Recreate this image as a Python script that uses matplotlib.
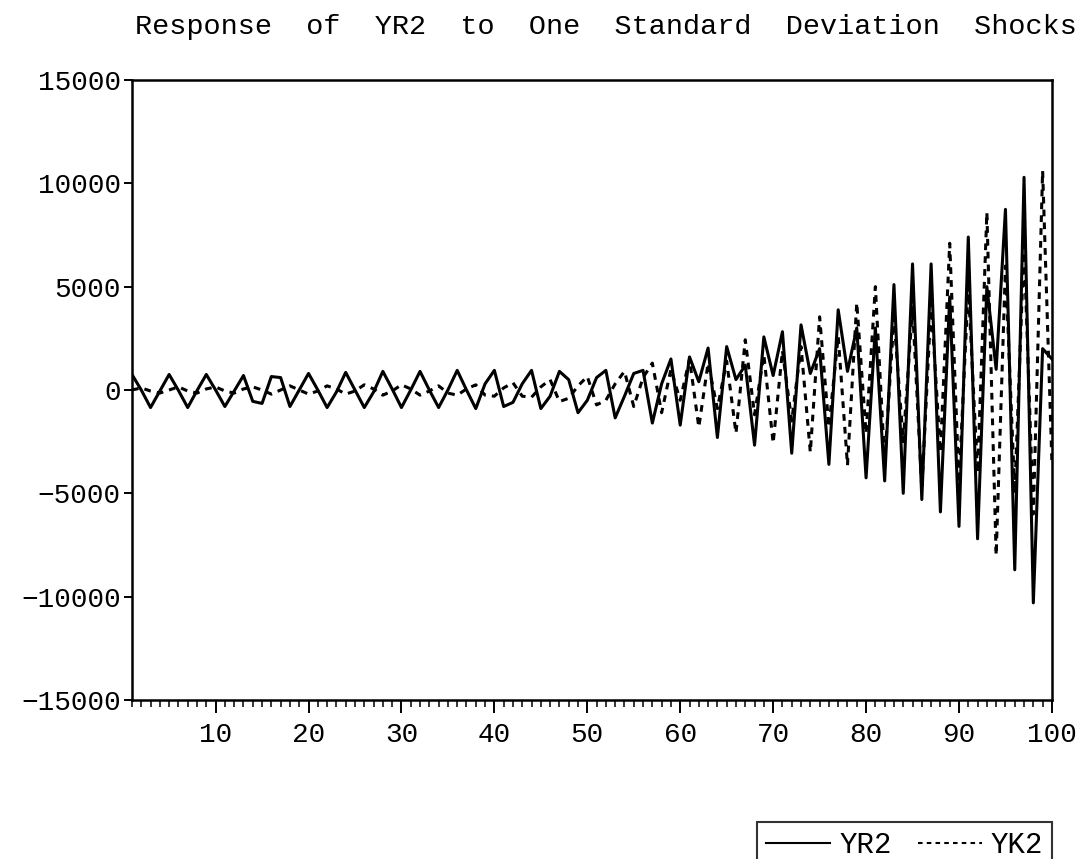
import matplotlib
matplotlib.use("Agg")
import matplotlib.pyplot as plt

plt.rcParams['font.family'] = ['Liberation Mono', 'DejaVu Sans Mono']

# impulse response horizon
periods = list(range(1, 101))

# response of YR2 (solid line)
yr2 = [750, 0, -850, -50, 750, -20, -850, -30, 750, 0,
       -800, -50, 700, -550, -650, 650, 600, -800, 0, 800,
       0, -850, -100, 850, 0, -850, -100, 900, 50, -850,
       0, 900, 0, -850, 0, 950, 0, -900, 300, 950,
       -800, -600, 300, 950, -900, -300, 900, 500, -1100, -500,
       600, 950, -1350, -300, 800, 950, -1600, 300, 1500, -1700,
       1600, 400, 2030, -2300, 2100, 500, 1200, -2670, 2570, 700,
       2820, -3060, 3150, 800, 2000, -3600, 3880, 900, 3000, -4250,
       3000, -4400, 5100, -5000, 6100, -5300, 6100, -5900, 4500, -6600,
       7400, -7200, 5000, 1000, 8740, -8700, 10290, -10300, 2000, 1500]

# response of YK2 (dashed line)
yk2 = [0, 100, -50, -150, 0, 150, -50, -150, 50, 150,
       -50, -150, 50, 150, 0, -200, 0, 200, 0, -200,
       -50, 200, 50, -200, -50, 250, 50, -250, -50, 250,
       50, -250, -50, 200, -150, -250, 50, 250, -250, -300,
       100, 350, -300, -350, 150, 500, -560, -400, 200, 650,
       -720, -500, 300, 900, -800, 600, 1300, -1100, 1000, -500,
       1500, -1800, 1300, -900, 1400, -2090, 2430, -1200, 1700, -2570,
       1900, -1500, 2100, -3010, 3540, -1800, 2600, -3640, 4220, -2100,
       5000, -3500, 3500, -2500, 4000, -4800, 4200, -3000, 7100, -4500,
       5000, -4000, 8590, -8000, 6000, -5000, 7000, -6000, 10600, -3500]

y_ticks = [-15000, -10000, -5000, 0, 5000, 10000, 15000]
x_ticks = [10, 20, 30, 40, 50, 60, 70, 80, 90, 100]
title = 'Response  of  YR2  to  One  Standard  Deviation  Shocks'

fig = plt.figure(figsize=(10.79, 8.59), dpi=100)
ax = fig.add_axes([0.1223, 0.1851, 0.8526, 0.7218])

ax.plot(periods, yr2, color='black', lw=2.2, label='YR2')
ax.plot(periods, yk2, color='black', lw=2.2, ls=(0, (2.2, 2)), label='YK2')

ax.set_xlim(1, 100)
ax.set_ylim(-15000, 15000)
ax.set_yticks(y_ticks)
ax.set_xticks(x_ticks)
ax.set_xticks(periods, minor=True)
ax.tick_params(axis='both', direction='out', labelsize=20, width=1.4,
               color='black', labelcolor='black')
ax.tick_params(axis='y', length=6, pad=2)
ax.tick_params(axis='x', which='major', length=9, pad=7)
ax.tick_params(axis='x', which='minor', length=5, width=1.1)
for s in ax.spines.values():
    s.set_linewidth(1.8)

fig.text(0.562, 0.969, title, ha='center', va='center', fontsize=20.5)

leg = fig.legend(loc='upper right', bbox_to_anchor=(1052 / 1079, 1 - 822 / 859),
                 ncol=2, frameon=True, fancybox=False, fontsize=21,
                 handlelength=2.2, handletextpad=0.3, columnspacing=0.9,
                 borderpad=0.3, borderaxespad=0)
leg.get_frame().set_edgecolor('black')
leg.get_frame().set_linewidth(1.5)
for line in leg.get_lines():
    line.set_linewidth(1.5)

fig.savefig('out.png', dpi=100)
